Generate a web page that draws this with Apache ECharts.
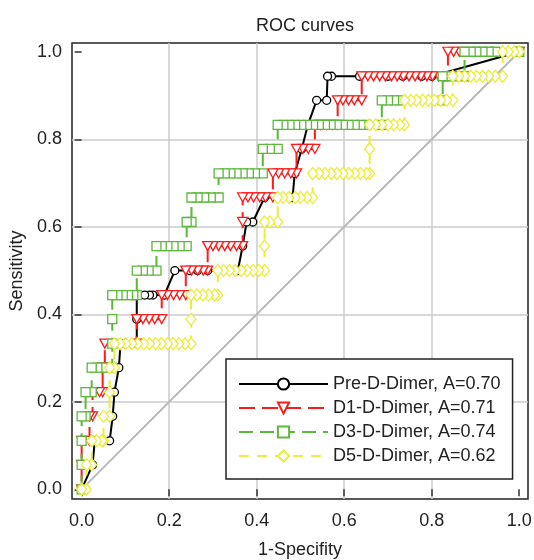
<!DOCTYPE html>
<html>
<head>
<meta charset="utf-8">
<script src="https://cdn.jsdelivr.net/npm/echarts@6/dist/echarts.min.js"></script>
<style>
  html, body { margin: 0; padding: 0; background: #fff; }
  #chart { width: 534px; height: 560px; }
</style>
</head>
<body>
<div id="chart"></div>
<script>
// tick labels on both axes
const tickValues = [0, 0.2, 0.4, 0.6, 0.8, 1.0];

const seriesNames = [
  'Pre-D-Dimer, A=0.70',
  'D1-D-Dimer, A=0.71',
  'D3-D-Dimer, A=0.74',
  'D5-D-Dimer, A=0.62'
];

// reference line
const chanceLine = [[0, 0], [1, 1]];

// [1-specificity, sensitivity] points
const preDimer = [
  [0, 0], [0.025, 0.056], [0.03, 0.111], [0.064, 0.111], [0.071, 0.167], [0.075, 0.222],
  [0.085, 0.278], [0.089, 0.333], [0.126, 0.333], [0.126, 0.389], [0.126, 0.444],
  [0.144, 0.444], [0.155, 0.444], [0.163, 0.444], [0.189, 0.444], [0.213, 0.5],
  [0.247, 0.5], [0.265, 0.5], [0.288, 0.5], [0.357, 0.5], [0.368, 0.556], [0.377, 0.611],
  [0.391, 0.611], [0.418, 0.667], [0.482, 0.667], [0.487, 0.722], [0.503, 0.778],
  [0.517, 0.833], [0.537, 0.889], [0.56, 0.889], [0.562, 0.944], [0.571, 0.944],
  [0.635, 0.944], [0.7, 0.944], [0.734, 0.944], [0.777, 0.944], [0.8, 0.944], [1, 1]
];

const d1Dimer = [
  [0, 0], [0, 0.056], [0, 0.111], [0.018, 0.111], [0.018, 0.167], [0.025, 0.167],
  [0.025, 0.222], [0.041, 0.222], [0.048, 0.222], [0.048, 0.278], [0.053, 0.278],
  [0.053, 0.333], [0.126, 0.333], [0.126, 0.389], [0.14, 0.389], [0.154, 0.389],
  [0.167, 0.389], [0.183, 0.389], [0.183, 0.444], [0.196, 0.444], [0.21, 0.444],
  [0.224, 0.444], [0.238, 0.444], [0.238, 0.5], [0.251, 0.5], [0.265, 0.5], [0.278, 0.5],
  [0.288, 0.5], [0.288, 0.556], [0.3, 0.556], [0.313, 0.556], [0.327, 0.556], [0.34, 0.556],
  [0.354, 0.556], [0.368, 0.556], [0.368, 0.611], [0.368, 0.667], [0.38, 0.667],
  [0.393, 0.667], [0.407, 0.667], [0.42, 0.667], [0.437, 0.667], [0.437, 0.722],
  [0.45, 0.722], [0.464, 0.722], [0.478, 0.722], [0.491, 0.722], [0.491, 0.778],
  [0.505, 0.778], [0.518, 0.778], [0.533, 0.778], [0.533, 0.833], [0.546, 0.833],
  [0.56, 0.833], [0.573, 0.833], [0.585, 0.833], [0.585, 0.889], [0.597, 0.889],
  [0.61, 0.889], [0.623, 0.889], [0.64, 0.889], [0.64, 0.944], [0.654, 0.944],
  [0.667, 0.944], [0.681, 0.944], [0.694, 0.944], [0.708, 0.944], [0.721, 0.944],
  [0.735, 0.944], [0.748, 0.944], [0.762, 0.944], [0.775, 0.944], [0.789, 0.944],
  [0.802, 0.944], [0.816, 0.944], [0.829, 0.944], [0.837, 0.944], [0.837, 1],
  [0.85, 1], [0.863, 1], [1, 1]
];

const d3Dimer = [
  [0, 0], [0, 0.056], [0, 0.111], [0, 0.167], [0.009, 0.167], [0.009, 0.222],
  [0.023, 0.222], [0.023, 0.278], [0.036, 0.278], [0.048, 0.278], [0.07, 0.278],
  [0.07, 0.333], [0.07, 0.389], [0.07, 0.444], [0.082, 0.444], [0.094, 0.444],
  [0.106, 0.444], [0.118, 0.444], [0.126, 0.444], [0.126, 0.5], [0.14, 0.5], [0.153, 0.5],
  [0.171, 0.5], [0.171, 0.556], [0.183, 0.556], [0.196, 0.556], [0.21, 0.556],
  [0.224, 0.556], [0.24, 0.556], [0.24, 0.611], [0.251, 0.611], [0.251, 0.667],
  [0.265, 0.667], [0.28, 0.667], [0.295, 0.667], [0.313, 0.667], [0.313, 0.722],
  [0.327, 0.722], [0.34, 0.722], [0.354, 0.722], [0.368, 0.722], [0.382, 0.722],
  [0.396, 0.722], [0.414, 0.722], [0.414, 0.778], [0.43, 0.778], [0.448, 0.778],
  [0.448, 0.833], [0.461, 0.833], [0.475, 0.833], [0.488, 0.833], [0.502, 0.833],
  [0.515, 0.833], [0.529, 0.833], [0.542, 0.833], [0.556, 0.833], [0.569, 0.833],
  [0.583, 0.833], [0.597, 0.833], [0.61, 0.833], [0.624, 0.833], [0.637, 0.833],
  [0.651, 0.833], [0.686, 0.833], [0.686, 0.889], [0.7, 0.889], [0.714, 0.889],
  [0.728, 0.889], [0.825, 0.889], [0.825, 0.944], [0.838, 0.944], [0.852, 0.944],
  [0.875, 0.944], [0.875, 1], [0.889, 1], [0.902, 1], [0.916, 1], [0.93, 1],
  [0.945, 1], [1, 1]
];

const d5Dimer = [
  [0, 0], [0.011, 0], [0.011, 0.056], [0.023, 0.056], [0.023, 0.111], [0.034, 0.111],
  [0.046, 0.111], [0.05, 0.111], [0.05, 0.167], [0.064, 0.167], [0.064, 0.222],
  [0.064, 0.278], [0.075, 0.278], [0.075, 0.333], [0.088, 0.333], [0.101, 0.333],
  [0.115, 0.333], [0.128, 0.333], [0.142, 0.333], [0.155, 0.333], [0.169, 0.333],
  [0.182, 0.333], [0.196, 0.333], [0.209, 0.333], [0.222, 0.333], [0.236, 0.333],
  [0.25, 0.333], [0.25, 0.389], [0.25, 0.444], [0.263, 0.444], [0.277, 0.444],
  [0.29, 0.444], [0.304, 0.444], [0.311, 0.444], [0.311, 0.5], [0.324, 0.5], [0.338, 0.5],
  [0.351, 0.5], [0.365, 0.5], [0.378, 0.5], [0.392, 0.5], [0.405, 0.5], [0.418, 0.5],
  [0.418, 0.556], [0.418, 0.611], [0.43, 0.611], [0.448, 0.611], [0.448, 0.667],
  [0.46, 0.667], [0.474, 0.667], [0.488, 0.667], [0.5, 0.667], [0.515, 0.667],
  [0.528, 0.667], [0.528, 0.722], [0.542, 0.722], [0.556, 0.722], [0.57, 0.722],
  [0.583, 0.722], [0.597, 0.722], [0.61, 0.722], [0.624, 0.722], [0.637, 0.722],
  [0.651, 0.722], [0.658, 0.722], [0.658, 0.778], [0.658, 0.833], [0.672, 0.833],
  [0.686, 0.833], [0.7, 0.833], [0.713, 0.833], [0.727, 0.833], [0.738, 0.833],
  [0.738, 0.889], [0.752, 0.889], [0.765, 0.889], [0.779, 0.889], [0.792, 0.889],
  [0.806, 0.889], [0.82, 0.889], [0.834, 0.889], [0.848, 0.889], [0.848, 0.944],
  [0.862, 0.944], [0.875, 0.944], [0.889, 0.944], [0.902, 0.944], [0.916, 0.944],
  [0.93, 0.944], [0.945, 0.944], [0.962, 0.944], [0.962, 1], [0.975, 1], [0.988, 1], [1, 1]
];

const font = "'Liberation Sans', Arial, sans-serif";
const downTriangle = 'path://M0,0L10,0L5,9Z';

// points are drawn right to left so the left marker sits on top, like the original plot
function rocSeries(name, data, color, dash, symbol, size) {
  return {
    name: name,
    type: 'line',
    data: data.slice().reverse(),
    symbol: symbol,
    symbolSize: size,
    showAllSymbol: true,
    clip: false,
    lineStyle: { color: color, width: 2, type: dash },
    itemStyle: { color: '#fff', borderColor: color, borderWidth: 1.3 },
    emphasis: { disabled: true },
    z: 3
  };
}

const chart = echarts.init(document.getElementById('chart'));

const axisCommon = {
  type: 'value',
  min: -0.022,
  max: 1.02,
  splitNumber: 5,
  nameLocation: 'middle',
  nameTextStyle: { fontSize: 18, color: '#222', fontFamily: font },
  axisLine: { show: false },
  axisTick: {
    show: true,
    length: 7,
    customValues: tickValues,
    lineStyle: { color: '#333', width: 1.5 }
  },
  axisLabel: {
    customValues: tickValues,
    formatter: (v) => v.toFixed(1),
    fontSize: 18,
    color: '#222',
    fontFamily: font
  },
  splitLine: {
    show: true,
    showMinLine: false,
    showMaxLine: false,
    lineStyle: { color: '#cbcbcb', width: 1.5 }
  }
};

const option = {
  animation: false,
  textStyle: { fontFamily: font },
  title: {
    text: 'ROC curves',
    left: 300,
    top: 12,
    textAlign: 'center',
    textStyle: { fontSize: 18, fontWeight: 'normal', color: '#222', fontFamily: font }
  },
  grid: {
    left: 72,
    right: 6,
    top: 43,
    bottom: 61,
    outerBoundsMode: 'none',
    show: true,
    borderColor: '#222',
    borderWidth: 1.5,
    backgroundColor: '#fff'
  },
  legend: {
    data: seriesNames,
    orient: 'vertical',
    left: 226,
    top: 359,
    padding: [16, 12, 14, 12],
    itemGap: 6,
    itemWidth: 89,
    itemHeight: 14,
    backgroundColor: '#fff',
    borderColor: '#222',
    borderWidth: 1.5,
    selectedMode: false,
    textStyle: { fontSize: 18, color: '#222', fontFamily: font }
  },
  xAxis: Object.assign({}, axisCommon, {
    name: '1-Specifity',
    nameGap: 42,
    axisLabel: Object.assign({}, axisCommon.axisLabel, { margin: 13 })
  }),
  yAxis: Object.assign({}, axisCommon, {
    name: 'Sensitivity',
    nameGap: 45,
    axisLabel: Object.assign({}, axisCommon.axisLabel, { margin: 10 })
  }),
  series: [
    {
      name: 'chance',
      type: 'line',
      data: chanceLine,
      symbol: 'none',
      silent: true,
      lineStyle: { color: '#b8b8b8', width: 2 },
      z: 2
    },
    rocSeries(seriesNames[0], preDimer, '#000000', 'solid', 'circle', 8),
    rocSeries(seriesNames[1], d1Dimer, '#ff1a1a', [16, 7], downTriangle, [10, 9]),
    rocSeries(seriesNames[2], d3Dimer, '#5cb83a', [14, 7], 'rect', 9),
    rocSeries(seriesNames[3], d5Dimer, '#ecec3a', [10, 8], 'diamond', [10, 12])
  ]
};

chart.setOption(option);
</script>
</body>
</html>
